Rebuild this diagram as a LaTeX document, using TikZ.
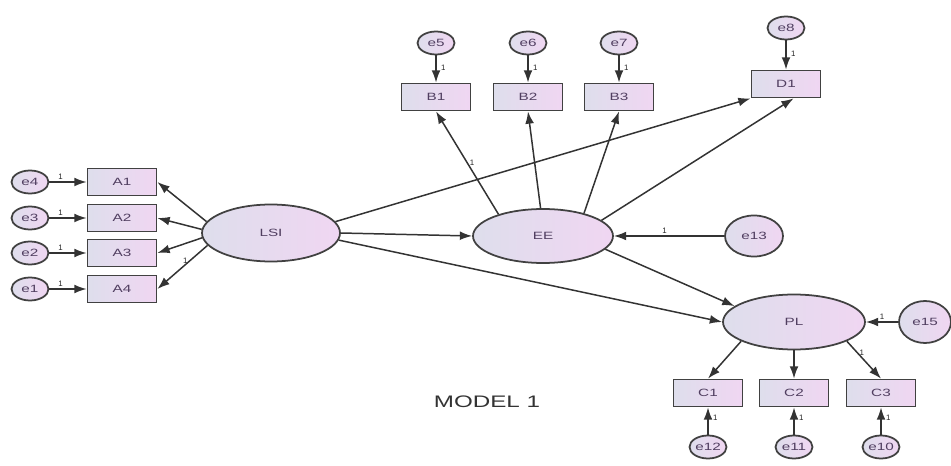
\documentclass[tikz,border=0pt]{standalone}
\usepackage{fontspec}
\setmainfont{Liberation Sans}
\usepackage{graphicx}
\usetikzlibrary{shapes.geometric,arrows.meta}

\definecolor{edgegray}{RGB}{65,65,65}
\definecolor{fillL}{RGB}{222,222,236}
\definecolor{fillR}{RGB}{240,214,242}
\definecolor{lbl}{RGB}{80,62,96}

% labels in this model are set wide
\newcommand{\wtxt}[1]{\scalebox{1.45}[1]{#1}}

\tikzset{
  obs/.style={rectangle, draw=edgegray, line width=1pt, left color=fillL, right color=fillR,
    minimum width=1.38cm, minimum height=0.54cm, inner sep=0pt, text=lbl,
    font=\fontsize{6}{7}\selectfont},
  lat/.style={ellipse, draw=edgegray, line width=1pt, left color=fillL, right color=fillR,
    inner sep=0pt, text=lbl, font=\fontsize{6}{7}\selectfont},
  err/.style={lat, minimum width=0.74cm, minimum height=0.46cm},
  arr/.style={draw=black!80, line width=0.85pt, -{Latex[length=7pt,width=5pt]}},
  one/.style={font=\fontsize{4.5}{5}\selectfont, inner sep=1pt, text=black!85},
}

\begin{document}
\begin{tikzpicture}[x=0.02cm,y=-0.02cm]
\useasboundingbox (0,0) rectangle (951,466);

% latent variables
\node[lat, minimum width=2.76cm, minimum height=1.14cm] (LSI) at (271,233) {\wtxt{LSI}};
\node[lat, minimum width=2.8cm, minimum height=1.08cm] (EE) at (543,236) {\wtxt{EE}};
\node[lat, minimum width=2.84cm, minimum height=1.1cm] (PL) at (794,322) {\wtxt{PL}};

% indicators of LSI
\node[obs] (A1) at (122,182) {\wtxt{A1}};
\node[obs] (A2) at (122,218) {\wtxt{A2}};
\node[obs] (A3) at (122,253) {\wtxt{A3}};
\node[obs] (A4) at (122,289) {\wtxt{A4}};
\node[err] (e4) at (30,182) {\wtxt{e4}};
\node[err] (e3) at (30,218) {\wtxt{e3}};
\node[err] (e2) at (30,253) {\wtxt{e2}};
\node[err] (e1) at (30,289) {\wtxt{e1}};

% indicators of EE
\node[obs] (B1) at (436,97) {\wtxt{B1}};
\node[obs] (B2) at (528,97) {\wtxt{B2}};
\node[obs] (B3) at (619,97) {\wtxt{B3}};
\node[obs] (D1) at (786,84) {\wtxt{D1}};
\node[err] (e5) at (436,43) {\wtxt{e5}};
\node[err] (e6) at (528,43) {\wtxt{e6}};
\node[err] (e7) at (619,43) {\wtxt{e7}};
\node[err] (e8) at (786,28) {\wtxt{e8}};

% indicators of PL
\node[obs] (C1) at (708,393) {\wtxt{C1}};
\node[obs] (C2) at (794,393) {\wtxt{C2}};
\node[obs] (C3) at (881,393) {\wtxt{C3}};
\node[err] (e12) at (708,447) {\wtxt{e12}};
\node[err] (e11) at (794,447) {\wtxt{e11}};
\node[err] (e10) at (881,447) {\wtxt{e10}};

% disturbances
\node[lat, minimum width=1.16cm, minimum height=0.82cm] (e13) at (754,236) {\wtxt{e13}};
\node[lat, minimum width=1.04cm, minimum height=0.84cm] (e15) at (925,322) {\wtxt{e15}};

% measurement errors into A
\draw[arr] (e4) -- node[one, above, pos=0.3] {1} (A1);
\draw[arr] (e3) -- node[one, above, pos=0.3] {1} (A2);
\draw[arr] (e2) -- node[one, above, pos=0.3] {1} (A3);
\draw[arr] (e1) -- node[one, above, pos=0.3] {1} (A4);

% LSI loadings
\draw[arr] (LSI.170) -- (A1.east);
\draw[arr] (LSI.177) -- (A2.east);
\draw[arr] (LSI.184) -- (A3.east);
\draw[arr] (LSI.191) -- node[one, left, pos=0.35] {1} (A4.east);

% errors into B and D
\draw[arr] (e5) -- node[one, right, pos=0.45, xshift=1.5pt] {1} (B1);
\draw[arr] (e6) -- node[one, right, pos=0.45, xshift=1.5pt] {1} (B2);
\draw[arr] (e7) -- node[one, right, pos=0.45, xshift=1.5pt] {1} (B3);
\draw[arr] (e8) -- node[one, right, pos=0.45, xshift=1.5pt] {1} (D1);

% EE loadings
\draw[arr] (EE.154) -- node[one, right, pos=0.5] {1} (B1.south);
\draw[arr] (EE.95) -- (B2.south);
\draw[arr] (EE.29) -- (B3.south);
\draw[arr] (EE.15) -- (D1.-62);

% structural paths
\draw[arr] (LSI.10) -- (D1.south west);
\draw[arr] (LSI.east) -- (EE.west);
\draw[arr] (LSI.-6) -- (PL.west);
\draw[arr] (EE.-12) -- (PL.165);
\draw[arr] (e13) -- node[one, above, pos=0.54] {1} (EE.east);
\draw[arr] (e15) -- node[one, above, pos=0.5] {1} (PL.east);

% PL loadings
\draw[arr] (PL.200) -- (C1.north);
\draw[arr] (PL.south) -- (C2.north);
\draw[arr] (PL.-20) -- node[one, right, pos=0.3] {1} (C3.north);

% errors into C
\draw[arr] (e12) -- node[one, right, pos=0.6, xshift=1.5pt] {1} (C1);
\draw[arr] (e11) -- node[one, right, pos=0.6, xshift=1.5pt] {1} (C2);
\draw[arr] (e10) -- node[one, right, pos=0.6, xshift=1.5pt] {1} (C3);

% caption
\node[font=\fontsize{9.5}{11}\selectfont, text=black!80] (title) at (487,402) {\wtxt{MODEL 1}};
\end{tikzpicture}
\end{document}
